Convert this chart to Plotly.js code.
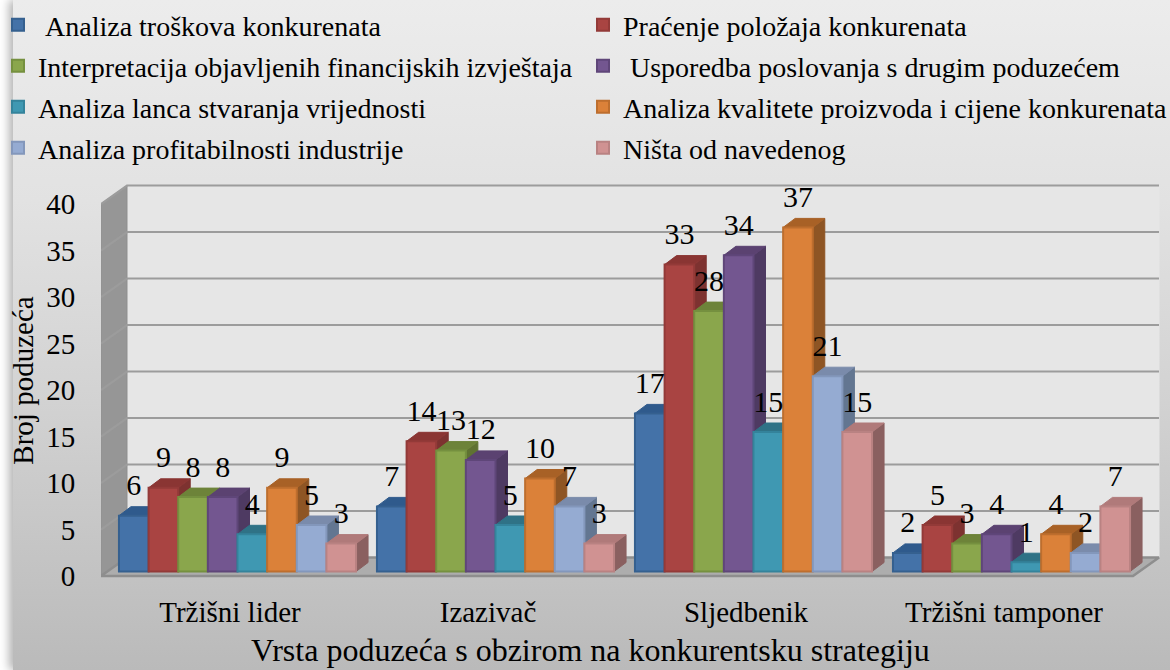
<!DOCTYPE html>
<html><head><meta charset="utf-8">
<script src="https://cdn.plot.ly/plotly-3.0.1.min.js"></script>
<style>
html,body{margin:0;padding:0;background:#fff;overflow:hidden}
#bg{position:absolute;left:13px;top:0;width:1157px;height:670px;background:linear-gradient(#ececec 0%,#e2e2e2 30%,#d2d2d2 60%,#bababa 100%);box-shadow:-4px 0 9px rgba(0,0,0,.3)}
#chart{position:absolute;left:0;top:0;width:1170px;height:670px}
</style></head><body><div id="bg"></div><div id="chart"></div>
<script>
const categories=["Tržišni lider","Izazivač","Sljedbenik","Tržišni tamponer"];
const troskovi=[6,7,17,2];
const polozaj=[9,14,33,5];
const izvjestaji=[8,13,28,3];
const usporedba=[8,12,34,4];
const lanac=[4,5,15,1];
const kvaliteta=[9,10,37,4];
const profitabilnost=[5,7,21,2];
const nista=[3,3,15,7];
const seriesNames=["&#160;Analiza troškova konkurenata","Praćenje položaja konkurenata","Interpretacija objavljenih financijskih izvještaja","&#160;Usporedba poslovanja s drugim poduzećem","Analiza lanca stvaranja vrijednosti","Analiza kvalitete proizvoda i cijene konkurenata","Analiza profitabilnosti industrije","Ništa od navedenog"];
const seriesValues=[troskovi,polozaj,izvjestaji,usporedba,lanac,kvaliteta,profitabilnost,nista];
const frontColors=["#4472a8","#a94442","#8aa64c","#735690","#3f98b2","#db8139","#95abd2","#d09292"];
const edgeColors=["#35608f","#933a38","#75903f","#5f4679","#34839b","#bd6e2e","#8397bb","#b98282"];
const topColors=["#2f5a8c","#8a3533","#6d8339","#5b4271","#2f7286","#a86126","#7a8bab","#b07a7a"];
const sideColors=["#345a86","#7d3230","#5f7232","#4e3a62","#2a667a","#8e5524","#637691","#8a6060"];
const legendPos=[[-2,25],[583,25],[-2,66],[583,66],[-2,107],[583,107],[-2,148],[583,148]];
const yTicks=[0,5,10,15,20,25,30,35,40];

const W=1170,H=670,pl=101,pr=1160,pt=183,pb=578;
const ux=258,uy=9.3,y0px=576;
const L=-0.5,R=L+(pr-pl)/ux,B=(y0px-pb)/uy,T=(y0px-pt)/uy;
const wdx=26/ux,wdy=18.5/uy;           // wall depth
const ix=7.5/ux,iy=4.5/uy;             // bar inset from the front plane
const bdx=12/ux,bdy=9/uy;              // bar depth
const bw=(1-0.081)/8;
const traces=[];
const poly=(xs,ys,fill,line,lw)=>({type:"scatter",mode:"lines",x:xs,y:ys,fill:"toself",fillcolor:fill,line:{color:line,width:lw===undefined?1:lw},hoverinfo:"skip",showlegend:false,xaxis:"x",yaxis:"y"});
const N=categories.length;
traces.push(poly([L+wdx,L+wdx+N,L+wdx+N,L+wdx,L+wdx],[wdy,wdy,40+wdy,40+wdy,wdy],"#e6e6e6","#e6e6e6"));
traces.push(poly([L,L+wdx,L+wdx,L,L],[0,wdy,40+wdy,40,0],"#969696","#8f8f8f"));
let gx=[],gy=[];
yTicks.forEach(v=>{if(v>0){gx.push(L,L+wdx,L+wdx+N,null);gy.push(v,v+wdy,v+wdy,null);}});
traces.push({type:"scatter",mode:"lines",x:gx,y:gy,line:{color:"#9c9c9c",width:2.2},hoverinfo:"skip",showlegend:false,xaxis:"x",yaxis:"y"});
traces.push(poly([L,L+N,L+wdx+N,L+wdx,L],[0,0,wdy,wdy,0],"#adadad","#8e8e8e",2.5));
seriesValues.forEach((vals,i)=>{
  let sx=[],sy=[],tx=[],ty=[];
  vals.forEach((v,c)=>{
    const xl=c+(i-4)*bw+ix,xr=xl+bw,b=iy,t=v+iy;
    sx.push(xr,xr,xr+bdx,xr+bdx,xr,null);sy.push(b,t,t+bdy,b+bdy,b,null);
    tx.push(xl,xr,xr+bdx,xl+bdx,xl,null);ty.push(t,t,t+bdy,t+bdy,t,null);
  });
  traces.push(poly(sx,sy,sideColors[i],sideColors[i]));
  traces.push(poly(tx,ty,topColors[i],topColors[i]));
});
seriesValues.forEach((vals,i)=>{
  traces.push({type:"bar",name:seriesNames[i],x:categories.map((_,c)=>c),y:vals,xaxis:"x2",yaxis:"y2",
    marker:{color:frontColors[i],line:{color:edgeColors[i],width:2}},legend:i?"legend"+(i+1):"legend",hoverinfo:"x+y"});
});
seriesValues.forEach((vals,i)=>{
  traces.push({type:"scatter",mode:"text",x:vals.map((_,c)=>c+(i-3.5)*bw),y:vals.map(v=>v+28/uy),text:vals.map(String),
    textposition:"middle center",textfont:{family:"Liberation Serif",size:30,color:"#000"},cliponaxis:false,hoverinfo:"skip",showlegend:false,xaxis:"x2",yaxis:"y2"});
});
const layout={width:W,height:H,margin:{l:pl,r:W-pr,t:pt,b:H-pb,autoexpand:false},paper_bgcolor:"rgba(0,0,0,0)",plot_bgcolor:"rgba(0,0,0,0)",
  font:{family:"Liberation Serif",color:"#000"},barmode:"group",bargap:0.081,bargroupgap:0,
  xaxis:{type:"linear",range:[L,R],tickmode:"array",tickvals:categories.map((_,c)=>c),ticktext:categories,showgrid:false,zeroline:false,showline:false,ticks:"outside",ticklen:8,tickcolor:"rgba(0,0,0,0)",tickfont:{size:29,family:"Liberation Serif"},fixedrange:true},
  yaxis:{type:"linear",range:[B,T],tickmode:"array",tickvals:yTicks,ticktext:yTicks.map(String),showgrid:false,zeroline:false,showline:false,ticks:"outside",ticklen:19,tickcolor:"rgba(0,0,0,0)",tickfont:{size:29,family:"Liberation Serif"},title:{text:"Broj poduzeća",font:{size:29,family:"Liberation Serif"},standoff:4},fixedrange:true},
  xaxis2:{type:"linear",overlaying:"x",range:[L-ix,R-ix],visible:false,fixedrange:true},
  yaxis2:{type:"linear",overlaying:"y",range:[B-iy,T-iy],visible:false,fixedrange:true},
  annotations:[{text:"Vrsta poduzeća s obzirom na konkurentsku strategiju",xref:"paper",yref:"paper",x:(590-pl)/(pr-pl),y:(pb-650)/(pb-pt),xanchor:"center",yanchor:"middle",showarrow:false,font:{size:32,family:"Liberation Serif",color:"#000"}}]
};
legendPos.forEach((p,i)=>{
  layout[i?"legend"+(i+1):"legend"]={x:(p[0]-pl)/(pr-pl),y:(pb-p[1])/(pb-pt),xanchor:"left",yanchor:"middle",bgcolor:"rgba(0,0,0,0)",borderwidth:0,font:{family:"Liberation Serif",size:28,color:"#000"}};
});
Plotly.newPlot("chart",traces,layout,{displayModeBar:false,staticPlot:true});
</script></body></html>
